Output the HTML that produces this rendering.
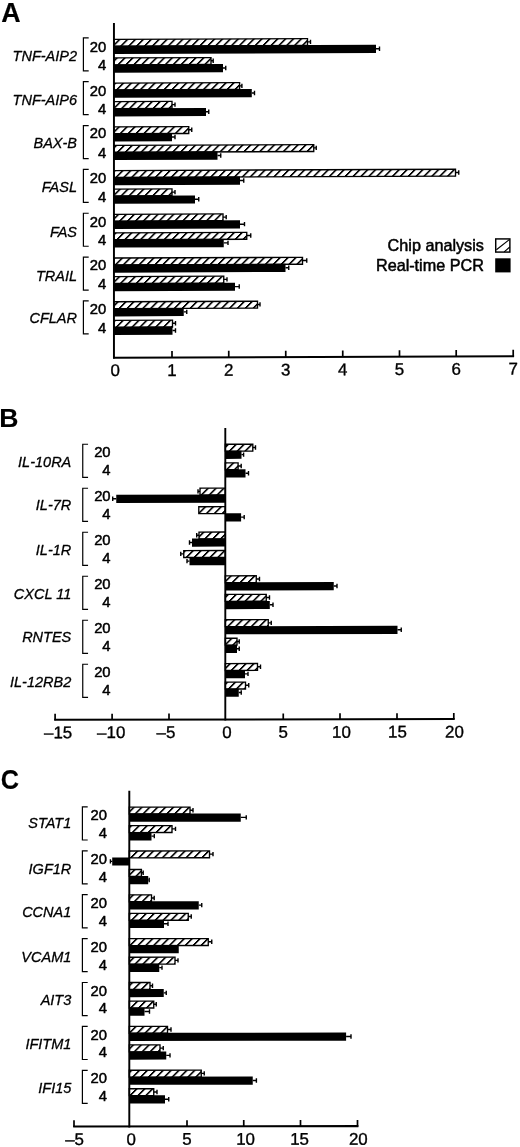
<!DOCTYPE html>
<html lang="en"><head><meta charset="utf-8"><title>Figure</title>
<style>
html,body{margin:0;padding:0;background:#fff;}
body{width:520px;height:1147px;overflow:hidden;}
svg{display:block;font-family:"Liberation Sans", Arial, Helvetica, sans-serif;fill:#000;filter:blur(0.35px);}
text{stroke:#000;stroke-width:0.5px;stroke-linejoin:round;}
</style></head><body>
<svg width="520" height="1147" viewBox="0 0 520 1147">
<defs>
<pattern id="hat" patternUnits="userSpaceOnUse" width="7.9" height="7.9" patternTransform="skewX(-45)">
<rect x="0" y="0" width="7.9" height="7.9" fill="#fff"/>
<rect x="0" y="0" width="2.3" height="7.9" fill="#000"/>
</pattern>
</defs>
<rect width="520" height="1147" fill="#fff"/>

<text x="1.2" y="21.7" font-size="26.8" font-weight="bold" style="stroke-width:0.2px">A</text>
<g transform="translate(114 0) skewY(-0.22) translate(-114 0)">
<rect x="113.95" y="39.38" width="193.55" height="6.9" fill="url(#hat)" stroke="#000" stroke-width="1.35"/>
<path d="M307.50 42.60H310.50M310.50 40.40V44.80" stroke="#000" stroke-width="1.4" fill="none"/>
<rect x="113.95" y="45.85" width="262.05" height="8.15" fill="#000"/>
<path d="M376.00 49.75H379.50M379.50 47.55V51.95" stroke="#000" stroke-width="1.4" fill="none"/>
<rect x="113.95" y="57.93" width="97.05" height="6.9" fill="url(#hat)" stroke="#000" stroke-width="1.35"/>
<path d="M211.00 61.15H213.20M213.20 58.95V63.35" stroke="#000" stroke-width="1.4" fill="none"/>
<rect x="113.95" y="64.50" width="109.05" height="8.15" fill="#000"/>
<path d="M223.00 68.40H225.75M225.75 66.20V70.60" stroke="#000" stroke-width="1.4" fill="none"/>
<rect x="113.95" y="83.11" width="125.65" height="6.9" fill="url(#hat)" stroke="#000" stroke-width="1.35"/>
<path d="M239.60 86.33H241.90M241.90 84.13V88.53" stroke="#000" stroke-width="1.4" fill="none"/>
<rect x="113.95" y="89.58" width="137.85" height="8.15" fill="#000"/>
<path d="M251.80 93.48H254.50M254.50 91.28V95.68" stroke="#000" stroke-width="1.4" fill="none"/>
<rect x="113.95" y="101.66" width="58.05" height="6.9" fill="url(#hat)" stroke="#000" stroke-width="1.35"/>
<path d="M172.00 104.88H175.00M175.00 102.68V107.08" stroke="#000" stroke-width="1.4" fill="none"/>
<rect x="113.95" y="108.23" width="92.05" height="8.15" fill="#000"/>
<path d="M206.00 112.13H208.75M208.75 109.93V114.33" stroke="#000" stroke-width="1.4" fill="none"/>
<rect x="113.95" y="126.84" width="74.80" height="6.9" fill="url(#hat)" stroke="#000" stroke-width="1.35"/>
<path d="M188.75 130.06H191.75M191.75 127.86V132.26" stroke="#000" stroke-width="1.4" fill="none"/>
<rect x="113.95" y="133.31" width="58.05" height="8.15" fill="#000"/>
<path d="M172.00 137.21H175.00M175.00 135.01V139.41" stroke="#000" stroke-width="1.4" fill="none"/>
<rect x="113.95" y="145.39" width="199.80" height="6.9" fill="url(#hat)" stroke="#000" stroke-width="1.35"/>
<path d="M313.75 148.61H316.25M316.25 146.41V150.81" stroke="#000" stroke-width="1.4" fill="none"/>
<rect x="113.95" y="151.96" width="103.55" height="8.15" fill="#000"/>
<path d="M217.50 155.86H220.75M220.75 153.66V158.06" stroke="#000" stroke-width="1.4" fill="none"/>
<rect x="113.95" y="170.57" width="341.55" height="6.9" fill="url(#hat)" stroke="#000" stroke-width="1.35"/>
<path d="M455.50 173.79H458.75M458.75 171.59V175.99" stroke="#000" stroke-width="1.4" fill="none"/>
<rect x="113.95" y="177.04" width="126.05" height="8.15" fill="#000"/>
<path d="M240.00 180.94H243.75M243.75 178.74V183.14" stroke="#000" stroke-width="1.4" fill="none"/>
<rect x="113.95" y="189.12" width="58.05" height="6.9" fill="url(#hat)" stroke="#000" stroke-width="1.35"/>
<path d="M172.00 192.34H175.00M175.00 190.14V194.54" stroke="#000" stroke-width="1.4" fill="none"/>
<rect x="113.95" y="195.69" width="81.05" height="8.15" fill="#000"/>
<path d="M195.00 199.59H198.75M198.75 197.39V201.79" stroke="#000" stroke-width="1.4" fill="none"/>
<rect x="113.95" y="214.30" width="109.05" height="6.9" fill="url(#hat)" stroke="#000" stroke-width="1.35"/>
<path d="M223.00 217.52H226.20M226.20 215.32V219.72" stroke="#000" stroke-width="1.4" fill="none"/>
<rect x="113.95" y="220.77" width="126.05" height="8.15" fill="#000"/>
<path d="M240.00 224.67H244.50M244.50 222.47V226.87" stroke="#000" stroke-width="1.4" fill="none"/>
<rect x="113.95" y="232.85" width="132.80" height="6.9" fill="url(#hat)" stroke="#000" stroke-width="1.35"/>
<path d="M246.75 236.07H250.75M250.75 233.87V238.27" stroke="#000" stroke-width="1.4" fill="none"/>
<rect x="113.95" y="239.42" width="109.80" height="8.15" fill="#000"/>
<path d="M223.75 243.32H228.00M228.00 241.12V245.52" stroke="#000" stroke-width="1.4" fill="none"/>
<rect x="113.95" y="258.03" width="188.55" height="6.9" fill="url(#hat)" stroke="#000" stroke-width="1.35"/>
<path d="M302.50 261.25H306.75M306.75 259.05V263.45" stroke="#000" stroke-width="1.4" fill="none"/>
<rect x="113.95" y="264.50" width="171.55" height="8.15" fill="#000"/>
<path d="M285.50 268.40H288.75M288.75 266.20V270.60" stroke="#000" stroke-width="1.4" fill="none"/>
<rect x="113.95" y="276.58" width="109.80" height="6.9" fill="url(#hat)" stroke="#000" stroke-width="1.35"/>
<path d="M223.75 279.80H227.00M227.00 277.60V282.00" stroke="#000" stroke-width="1.4" fill="none"/>
<rect x="113.95" y="283.15" width="121.05" height="8.15" fill="#000"/>
<path d="M235.00 287.05H239.25M239.25 284.85V289.25" stroke="#000" stroke-width="1.4" fill="none"/>
<rect x="113.95" y="301.76" width="143.55" height="6.9" fill="url(#hat)" stroke="#000" stroke-width="1.35"/>
<path d="M257.50 304.98H260.00M260.00 302.78V307.18" stroke="#000" stroke-width="1.4" fill="none"/>
<rect x="113.95" y="308.23" width="69.80" height="8.15" fill="#000"/>
<path d="M183.75 312.13H186.75M186.75 309.93V314.33" stroke="#000" stroke-width="1.4" fill="none"/>
<rect x="113.95" y="320.31" width="58.55" height="6.9" fill="url(#hat)" stroke="#000" stroke-width="1.35"/>
<path d="M172.50 323.53H175.50M175.50 321.33V325.73" stroke="#000" stroke-width="1.4" fill="none"/>
<rect x="113.95" y="326.88" width="58.55" height="8.15" fill="#000"/>
<path d="M172.50 330.78H175.50M175.50 328.58V332.98" stroke="#000" stroke-width="1.4" fill="none"/>
<path d="M113.95 22.9V358.6" stroke="#000" stroke-width="1.95" fill="none"/>
<path d="M113 357.7H514.1" stroke="#000" stroke-width="2.0" fill="none"/>
<path d="M172 351.3V358" stroke="#000" stroke-width="1.7" fill="none"/>
<path d="M228.75 351.3V358" stroke="#000" stroke-width="1.7" fill="none"/>
<path d="M285.75 351.3V358" stroke="#000" stroke-width="1.7" fill="none"/>
<path d="M342.75 351.3V358" stroke="#000" stroke-width="1.7" fill="none"/>
<path d="M399.5 351.3V358" stroke="#000" stroke-width="1.7" fill="none"/>
<path d="M456.2 351.3V358" stroke="#000" stroke-width="1.7" fill="none"/>
<path d="M513.2 351.3V358" stroke="#000" stroke-width="1.7" fill="none"/>
<text x="115.3" y="376.1" font-size="16.9" style="stroke-width:0.35px" text-anchor="middle">0</text>
<text x="172" y="376.1" font-size="16.9" style="stroke-width:0.35px" text-anchor="middle">1</text>
<text x="228.75" y="376.1" font-size="16.9" style="stroke-width:0.35px" text-anchor="middle">2</text>
<text x="285.75" y="376.1" font-size="16.9" style="stroke-width:0.35px" text-anchor="middle">3</text>
<text x="342.75" y="376.1" font-size="16.9" style="stroke-width:0.35px" text-anchor="middle">4</text>
<text x="399.5" y="376.1" font-size="16.9" style="stroke-width:0.35px" text-anchor="middle">5</text>
<text x="456.2" y="376.1" font-size="16.9" style="stroke-width:0.35px" text-anchor="middle">6</text>
<text x="513.2" y="376.1" font-size="16.9" style="stroke-width:0.35px" text-anchor="middle">7</text>
</g>
<path d="M88.70 37.85H83.40V70.85H88.70" stroke="#000" stroke-width="1.2" fill="none"/>
<text x="77.00" y="61.30" font-size="14.5" font-style="italic" style="stroke-width:0.3px" text-anchor="end">TNF-AIP2</text>
<text x="106.20" y="51.80" font-size="14.8" text-anchor="end">20</text>
<text x="106.20" y="69.95" font-size="14.8" text-anchor="end">4</text>
<path d="M88.70 81.70H83.40V114.70H88.70" stroke="#000" stroke-width="1.2" fill="none"/>
<text x="77.00" y="104.80" font-size="14.5" font-style="italic" style="stroke-width:0.3px" text-anchor="end">TNF-AIP6</text>
<text x="106.20" y="95.65" font-size="14.8" text-anchor="end">20</text>
<text x="106.20" y="113.80" font-size="14.8" text-anchor="end">4</text>
<path d="M88.70 125.55H83.40V158.55H88.70" stroke="#000" stroke-width="1.2" fill="none"/>
<text x="77.00" y="148.30" font-size="14.5" font-style="italic" style="stroke-width:0.3px" text-anchor="end">BAX-B</text>
<text x="106.20" y="138.45" font-size="14.8" text-anchor="end">20</text>
<text x="106.20" y="157.65" font-size="14.8" text-anchor="end">4</text>
<path d="M88.70 169.40H83.40V202.40H88.70" stroke="#000" stroke-width="1.2" fill="none"/>
<text x="77.00" y="192.30" font-size="14.5" font-style="italic" style="stroke-width:0.3px" text-anchor="end">FASL</text>
<text x="106.20" y="182.75" font-size="14.8" text-anchor="end">20</text>
<text x="106.20" y="201.50" font-size="14.8" text-anchor="end">4</text>
<path d="M88.70 213.25H83.40V246.25H88.70" stroke="#000" stroke-width="1.2" fill="none"/>
<text x="77.00" y="236.60" font-size="14.5" font-style="italic" style="stroke-width:0.3px" text-anchor="end">FAS</text>
<text x="106.20" y="226.50" font-size="14.8" text-anchor="end">20</text>
<text x="106.20" y="245.35" font-size="14.8" text-anchor="end">4</text>
<path d="M88.70 257.10H83.40V290.10H88.70" stroke="#000" stroke-width="1.2" fill="none"/>
<text x="77.00" y="280.50" font-size="14.5" font-style="italic" style="stroke-width:0.3px" text-anchor="end">TRAIL</text>
<text x="106.20" y="270.10" font-size="14.8" text-anchor="end">20</text>
<text x="106.20" y="289.20" font-size="14.8" text-anchor="end">4</text>
<path d="M88.70 300.95H83.40V333.95H88.70" stroke="#000" stroke-width="1.2" fill="none"/>
<text x="77.00" y="323.00" font-size="14.5" font-style="italic" style="stroke-width:0.3px" text-anchor="end">CFLAR</text>
<text x="106.20" y="314.40" font-size="14.8" text-anchor="end">20</text>
<text x="106.20" y="333.05" font-size="14.8" text-anchor="end">4</text>
<text x="483.9" y="250.6" font-size="16.2" text-anchor="end">Chip analysis</text>
<text x="483.9" y="270.5" font-size="16.2" text-anchor="end">Real-time PCR</text>
<rect x="495.72" y="238.92" width="14.16" height="13.16" fill="#fff" stroke="#000" stroke-width="1.45"/>
<path d="M496.4 249.8L509.3 239.6M504.2 251.9L509.8 247.0" stroke="#000" stroke-width="1.15" fill="none"/>
<rect x="495.2" y="258.3" width="15.4" height="14.1" fill="#000"/>
<text x="-0.7" y="426.9" font-size="26.6" font-weight="bold" style="stroke-width:0.1px">B</text>
<g transform="translate(225.3 0) skewY(-0.11) translate(-225.3 0)">
<rect x="225.30" y="444.28" width="27.50" height="6.9" fill="url(#hat)" stroke="#000" stroke-width="1.35"/>
<path d="M252.80 447.50H255.50M255.50 445.30V449.70" stroke="#000" stroke-width="1.4" fill="none"/>
<rect x="225.30" y="450.75" width="16.20" height="8.15" fill="#000"/>
<path d="M241.50 454.65H243.60M243.60 452.45V456.85" stroke="#000" stroke-width="1.4" fill="none"/>
<rect x="225.30" y="462.83" width="12.80" height="6.9" fill="url(#hat)" stroke="#000" stroke-width="1.35"/>
<path d="M238.10 466.05H241.20M241.20 463.85V468.25" stroke="#000" stroke-width="1.4" fill="none"/>
<rect x="225.30" y="469.40" width="20.20" height="8.15" fill="#000"/>
<path d="M245.50 473.30H248.50M248.50 471.10V475.50" stroke="#000" stroke-width="1.4" fill="none"/>
<rect x="200.00" y="488.14" width="25.30" height="6.9" fill="url(#hat)" stroke="#000" stroke-width="1.35"/>
<path d="M200.00 491.36H198.00M198.00 489.16V493.56" stroke="#000" stroke-width="1.4" fill="none"/>
<rect x="116.25" y="494.61" width="109.05" height="8.15" fill="#000"/>
<path d="M116.25 498.51H112.70M112.70 496.31V500.71" stroke="#000" stroke-width="1.4" fill="none"/>
<rect x="198.80" y="506.69" width="26.50" height="6.9" fill="url(#hat)" stroke="#000" stroke-width="1.35"/>
<rect x="225.30" y="513.26" width="15.80" height="8.15" fill="#000"/>
<path d="M241.10 517.16H244.20M244.20 514.96V519.36" stroke="#000" stroke-width="1.4" fill="none"/>
<rect x="199.00" y="532.00" width="26.30" height="6.9" fill="url(#hat)" stroke="#000" stroke-width="1.35"/>
<path d="M199.00 535.22H196.70M196.70 533.02V537.42" stroke="#000" stroke-width="1.4" fill="none"/>
<rect x="192.00" y="538.47" width="33.30" height="8.15" fill="#000"/>
<path d="M192.00 542.37H189.50M189.50 540.17V544.57" stroke="#000" stroke-width="1.4" fill="none"/>
<rect x="183.75" y="550.55" width="41.55" height="6.9" fill="url(#hat)" stroke="#000" stroke-width="1.35"/>
<path d="M183.75 553.77H180.75M180.75 551.57V555.97" stroke="#000" stroke-width="1.4" fill="none"/>
<rect x="189.50" y="557.12" width="35.80" height="8.15" fill="#000"/>
<path d="M189.50 561.02H187.00M187.00 558.82V563.22" stroke="#000" stroke-width="1.4" fill="none"/>
<rect x="225.30" y="575.86" width="30.95" height="6.9" fill="url(#hat)" stroke="#000" stroke-width="1.35"/>
<path d="M256.25 579.08H259.50M259.50 576.88V581.28" stroke="#000" stroke-width="1.4" fill="none"/>
<rect x="225.30" y="582.33" width="108.45" height="8.15" fill="#000"/>
<path d="M333.75 586.23H337.00M337.00 584.03V588.43" stroke="#000" stroke-width="1.4" fill="none"/>
<rect x="225.30" y="594.41" width="40.95" height="6.9" fill="url(#hat)" stroke="#000" stroke-width="1.35"/>
<path d="M266.25 597.63H269.50M269.50 595.43V599.83" stroke="#000" stroke-width="1.4" fill="none"/>
<rect x="225.30" y="600.98" width="44.50" height="8.15" fill="#000"/>
<path d="M269.80 604.88H273.00M273.00 602.68V607.08" stroke="#000" stroke-width="1.4" fill="none"/>
<rect x="225.30" y="619.72" width="42.95" height="6.9" fill="url(#hat)" stroke="#000" stroke-width="1.35"/>
<path d="M268.25 622.94H271.25M271.25 620.74V625.14" stroke="#000" stroke-width="1.4" fill="none"/>
<rect x="225.30" y="626.19" width="172.20" height="8.15" fill="#000"/>
<path d="M397.50 630.09H401.25M401.25 627.89V632.29" stroke="#000" stroke-width="1.4" fill="none"/>
<rect x="225.30" y="638.27" width="11.70" height="6.9" fill="url(#hat)" stroke="#000" stroke-width="1.35"/>
<path d="M237.00 641.49H239.25M239.25 639.29V643.69" stroke="#000" stroke-width="1.4" fill="none"/>
<rect x="225.30" y="644.84" width="11.70" height="8.15" fill="#000"/>
<path d="M237.00 648.74H239.25M239.25 646.54V650.94" stroke="#000" stroke-width="1.4" fill="none"/>
<rect x="225.30" y="663.58" width="32.20" height="6.9" fill="url(#hat)" stroke="#000" stroke-width="1.35"/>
<path d="M257.50 666.80H260.50M260.50 664.60V669.00" stroke="#000" stroke-width="1.4" fill="none"/>
<rect x="225.30" y="670.05" width="19.70" height="8.15" fill="#000"/>
<path d="M245.00 673.95H248.00M248.00 671.75V676.15" stroke="#000" stroke-width="1.4" fill="none"/>
<rect x="225.30" y="682.13" width="20.20" height="6.9" fill="url(#hat)" stroke="#000" stroke-width="1.35"/>
<path d="M245.50 685.35H248.75M248.75 683.15V687.55" stroke="#000" stroke-width="1.4" fill="none"/>
<rect x="225.30" y="688.70" width="13.45" height="8.15" fill="#000"/>
<path d="M238.75 692.60H241.25M241.25 690.40V694.80" stroke="#000" stroke-width="1.4" fill="none"/>
<path d="M225.3 428V720.4" stroke="#000" stroke-width="1.9" fill="none"/>
<path d="M54.2 719.5H454.7" stroke="#000" stroke-width="2.0" fill="none"/>
<path d="M55.1 713.5V719.8" stroke="#000" stroke-width="1.7" fill="none"/>
<path d="M112.1 713.5V719.8" stroke="#000" stroke-width="1.7" fill="none"/>
<path d="M169 713.5V719.8" stroke="#000" stroke-width="1.7" fill="none"/>
<path d="M283.25 713.5V719.8" stroke="#000" stroke-width="1.7" fill="none"/>
<path d="M340 713.5V719.8" stroke="#000" stroke-width="1.7" fill="none"/>
<path d="M397 713.5V719.8" stroke="#000" stroke-width="1.7" fill="none"/>
<path d="M453.8 713.5V719.8" stroke="#000" stroke-width="1.7" fill="none"/>
<text x="58.1" y="737.9" font-size="16.9" style="stroke-width:0.35px" text-anchor="middle">–15</text>
<text x="111.2" y="737.9" font-size="16.9" style="stroke-width:0.35px" text-anchor="middle">–10</text>
<text x="166" y="737.9" font-size="16.9" style="stroke-width:0.35px" text-anchor="middle">–5</text>
<text x="227" y="737.9" font-size="16.9" style="stroke-width:0.35px" text-anchor="middle">0</text>
<text x="283.2" y="737.9" font-size="16.9" style="stroke-width:0.35px" text-anchor="middle">5</text>
<text x="341.5" y="737.9" font-size="16.9" style="stroke-width:0.35px" text-anchor="middle">10</text>
<text x="397.5" y="737.9" font-size="16.9" style="stroke-width:0.35px" text-anchor="middle">15</text>
<text x="454.5" y="737.9" font-size="16.9" style="stroke-width:0.35px" text-anchor="middle">20</text>
</g>
<path d="M88.05 444.25H82.75V477.40H88.05" stroke="#000" stroke-width="1.2" fill="none"/>
<text x="71.30" y="466.70" font-size="14.5" font-style="italic" style="stroke-width:0.3px" text-anchor="end">IL-10RA</text>
<text x="110.60" y="456.75" font-size="14.8" text-anchor="end">20</text>
<text x="110.60" y="474.90" font-size="14.8" text-anchor="end">4</text>
<path d="M88.05 488.25H82.75V521.40H88.05" stroke="#000" stroke-width="1.2" fill="none"/>
<text x="71.30" y="510.20" font-size="14.5" font-style="italic" style="stroke-width:0.3px" text-anchor="end">IL-7R</text>
<text x="110.60" y="500.75" font-size="14.8" text-anchor="end">20</text>
<text x="110.60" y="518.90" font-size="14.8" text-anchor="end">4</text>
<path d="M88.05 532.25H82.75V565.40H88.05" stroke="#000" stroke-width="1.2" fill="none"/>
<text x="71.30" y="554.70" font-size="14.5" font-style="italic" style="stroke-width:0.3px" text-anchor="end">IL-1R</text>
<text x="110.60" y="544.75" font-size="14.8" text-anchor="end">20</text>
<text x="110.60" y="562.90" font-size="14.8" text-anchor="end">4</text>
<path d="M88.05 576.25H82.75V609.40H88.05" stroke="#000" stroke-width="1.2" fill="none"/>
<text x="71.30" y="598.95" font-size="14.5" font-style="italic" style="stroke-width:0.3px" text-anchor="end">CXCL 11</text>
<text x="110.60" y="588.75" font-size="14.8" text-anchor="end">20</text>
<text x="110.60" y="606.90" font-size="14.8" text-anchor="end">4</text>
<path d="M88.05 620.25H82.75V653.40H88.05" stroke="#000" stroke-width="1.2" fill="none"/>
<text x="71.30" y="642.20" font-size="14.5" font-style="italic" style="stroke-width:0.3px" text-anchor="end">RNTES</text>
<text x="110.60" y="632.75" font-size="14.8" text-anchor="end">20</text>
<text x="110.60" y="650.90" font-size="14.8" text-anchor="end">4</text>
<path d="M88.05 664.25H82.75V697.40H88.05" stroke="#000" stroke-width="1.2" fill="none"/>
<text x="71.30" y="687.20" font-size="14.5" font-style="italic" style="stroke-width:0.3px" text-anchor="end">IL-12RB2</text>
<text x="110.60" y="676.75" font-size="14.8" text-anchor="end">20</text>
<text x="110.60" y="694.90" font-size="14.8" text-anchor="end">4</text>
<text transform="translate(0.85 789.3) scale(0.92 1)" x="0" y="0" font-size="27.5" font-weight="bold" style="stroke-width:0.1px">C</text>
<g transform="translate(129.2 0) skewY(-0.06) translate(-129.2 0)">
<rect x="129.30" y="807.13" width="60.70" height="6.9" fill="url(#hat)" stroke="#000" stroke-width="1.35"/>
<path d="M190.00 810.35H193.00M193.00 808.15V812.55" stroke="#000" stroke-width="1.4" fill="none"/>
<rect x="129.30" y="813.60" width="111.45" height="8.15" fill="#000"/>
<path d="M240.75 817.50H246.25M246.25 815.30V819.70" stroke="#000" stroke-width="1.4" fill="none"/>
<rect x="129.30" y="825.68" width="42.70" height="6.9" fill="url(#hat)" stroke="#000" stroke-width="1.35"/>
<path d="M172.00 828.90H175.50M175.50 826.70V831.10" stroke="#000" stroke-width="1.4" fill="none"/>
<rect x="129.30" y="832.25" width="22.20" height="8.15" fill="#000"/>
<path d="M151.50 836.15H154.30M154.30 833.95V838.35" stroke="#000" stroke-width="1.4" fill="none"/>
<rect x="129.30" y="850.98" width="80.20" height="6.9" fill="url(#hat)" stroke="#000" stroke-width="1.35"/>
<path d="M209.50 854.20H213.00M213.00 852.00V856.40" stroke="#000" stroke-width="1.4" fill="none"/>
<rect x="112.20" y="857.45" width="17.10" height="8.15" fill="#000"/>
<path d="M112.20 861.35H110.40M110.40 859.15V863.55" stroke="#000" stroke-width="1.4" fill="none"/>
<rect x="129.30" y="869.53" width="12.10" height="6.9" fill="url(#hat)" stroke="#000" stroke-width="1.35"/>
<path d="M141.40 872.75H143.20M143.20 870.55V874.95" stroke="#000" stroke-width="1.4" fill="none"/>
<rect x="129.30" y="876.10" width="18.90" height="8.15" fill="#000"/>
<path d="M148.20 880.00H149.20M149.20 877.80V882.20" stroke="#000" stroke-width="1.4" fill="none"/>
<rect x="129.30" y="894.83" width="22.20" height="6.9" fill="url(#hat)" stroke="#000" stroke-width="1.35"/>
<path d="M151.50 898.05H154.20M154.20 895.85V900.25" stroke="#000" stroke-width="1.4" fill="none"/>
<rect x="129.30" y="901.30" width="69.45" height="8.15" fill="#000"/>
<path d="M198.75 905.20H201.75M201.75 903.00V907.40" stroke="#000" stroke-width="1.4" fill="none"/>
<rect x="129.30" y="913.38" width="58.95" height="6.9" fill="url(#hat)" stroke="#000" stroke-width="1.35"/>
<path d="M188.25 916.60H191.25M191.25 914.40V918.80" stroke="#000" stroke-width="1.4" fill="none"/>
<rect x="129.30" y="919.95" width="34.70" height="8.15" fill="#000"/>
<path d="M164.00 923.85H168.00M168.00 921.65V926.05" stroke="#000" stroke-width="1.4" fill="none"/>
<rect x="129.30" y="938.68" width="78.95" height="6.9" fill="url(#hat)" stroke="#000" stroke-width="1.35"/>
<path d="M208.25 941.90H211.75M211.75 939.70V944.10" stroke="#000" stroke-width="1.4" fill="none"/>
<rect x="129.30" y="945.15" width="49.45" height="8.15" fill="#000"/>
<rect x="129.30" y="957.23" width="45.70" height="6.9" fill="url(#hat)" stroke="#000" stroke-width="1.35"/>
<path d="M175.00 960.45H178.00M178.00 958.25V962.65" stroke="#000" stroke-width="1.4" fill="none"/>
<rect x="129.30" y="963.80" width="29.95" height="8.15" fill="#000"/>
<path d="M159.25 967.70H162.00M162.00 965.50V969.90" stroke="#000" stroke-width="1.4" fill="none"/>
<rect x="129.30" y="982.53" width="20.70" height="6.9" fill="url(#hat)" stroke="#000" stroke-width="1.35"/>
<path d="M150.00 985.75H152.50M152.50 983.55V987.95" stroke="#000" stroke-width="1.4" fill="none"/>
<rect x="129.30" y="989.00" width="34.45" height="8.15" fill="#000"/>
<path d="M163.75 992.90H166.25M166.25 990.70V995.10" stroke="#000" stroke-width="1.4" fill="none"/>
<rect x="129.30" y="1001.08" width="24.45" height="6.9" fill="url(#hat)" stroke="#000" stroke-width="1.35"/>
<path d="M153.75 1004.30H156.25M156.25 1002.10V1006.50" stroke="#000" stroke-width="1.4" fill="none"/>
<rect x="129.30" y="1007.65" width="15.20" height="8.15" fill="#000"/>
<path d="M144.50 1011.55H149.50M149.50 1009.35V1013.75" stroke="#000" stroke-width="1.4" fill="none"/>
<rect x="129.30" y="1026.38" width="38.20" height="6.9" fill="url(#hat)" stroke="#000" stroke-width="1.35"/>
<path d="M167.50 1029.60H171.00M171.00 1027.40V1031.80" stroke="#000" stroke-width="1.4" fill="none"/>
<rect x="129.30" y="1032.85" width="216.80" height="8.15" fill="#000"/>
<path d="M346.10 1036.75H351.00M351.00 1034.55V1038.95" stroke="#000" stroke-width="1.4" fill="none"/>
<rect x="129.30" y="1044.93" width="30.70" height="6.9" fill="url(#hat)" stroke="#000" stroke-width="1.35"/>
<path d="M160.00 1048.15H163.25M163.25 1045.95V1050.35" stroke="#000" stroke-width="1.4" fill="none"/>
<rect x="129.30" y="1051.50" width="36.95" height="8.15" fill="#000"/>
<path d="M166.25 1055.40H170.00M170.00 1053.20V1057.60" stroke="#000" stroke-width="1.4" fill="none"/>
<rect x="129.30" y="1070.23" width="71.95" height="6.9" fill="url(#hat)" stroke="#000" stroke-width="1.35"/>
<path d="M201.25 1073.45H204.25M204.25 1071.25V1075.65" stroke="#000" stroke-width="1.4" fill="none"/>
<rect x="129.30" y="1076.70" width="123.45" height="8.15" fill="#000"/>
<path d="M252.75 1080.60H256.40M256.40 1078.40V1082.80" stroke="#000" stroke-width="1.4" fill="none"/>
<rect x="129.30" y="1088.78" width="24.45" height="6.9" fill="url(#hat)" stroke="#000" stroke-width="1.35"/>
<path d="M153.75 1092.00H157.00M157.00 1089.80V1094.20" stroke="#000" stroke-width="1.4" fill="none"/>
<rect x="129.30" y="1095.35" width="35.70" height="8.15" fill="#000"/>
<path d="M165.00 1099.25H168.75M168.75 1097.05V1101.45" stroke="#000" stroke-width="1.4" fill="none"/>
<path d="M129.3 790.7V1127.4" stroke="#000" stroke-width="1.95" fill="none"/>
<path d="M73.2 1126.4H358.4" stroke="#000" stroke-width="2.1" fill="none"/>
<path d="M74 1120.2V1127" stroke="#000" stroke-width="1.7" fill="none"/>
<path d="M187 1120.2V1127" stroke="#000" stroke-width="1.7" fill="none"/>
<path d="M243.75 1120.2V1127" stroke="#000" stroke-width="1.7" fill="none"/>
<path d="M300.5 1120.2V1127" stroke="#000" stroke-width="1.7" fill="none"/>
<path d="M357.5 1120.2V1127" stroke="#000" stroke-width="1.7" fill="none"/>
<text x="74.6" y="1144.9" font-size="16.9" style="stroke-width:0.35px" text-anchor="middle">–5</text>
<text x="131.2" y="1144.9" font-size="16.9" style="stroke-width:0.35px" text-anchor="middle">0</text>
<text x="187" y="1144.9" font-size="16.9" style="stroke-width:0.35px" text-anchor="middle">5</text>
<text x="245.6" y="1144.9" font-size="16.9" style="stroke-width:0.35px" text-anchor="middle">10</text>
<text x="299.6" y="1144.9" font-size="16.9" style="stroke-width:0.35px" text-anchor="middle">15</text>
<text x="358.3" y="1144.9" font-size="16.9" style="stroke-width:0.35px" text-anchor="middle">20</text>
</g>
<path d="M87.70 806.90H82.40V840.00H87.70" stroke="#000" stroke-width="1.2" fill="none"/>
<text x="71.30" y="828.45" font-size="14.5" font-style="italic" style="stroke-width:0.3px" text-anchor="end">STAT1</text>
<text x="107.00" y="820.00" font-size="14.8" text-anchor="end">20</text>
<text x="107.00" y="837.80" font-size="14.8" text-anchor="end">4</text>
<path d="M87.70 850.80H82.40V883.90H87.70" stroke="#000" stroke-width="1.2" fill="none"/>
<text x="71.30" y="873.95" font-size="14.5" font-style="italic" style="stroke-width:0.3px" text-anchor="end">IGF1R</text>
<text x="107.00" y="863.90" font-size="14.8" text-anchor="end">20</text>
<text x="107.00" y="881.70" font-size="14.8" text-anchor="end">4</text>
<path d="M87.70 894.70H82.40V927.80H87.70" stroke="#000" stroke-width="1.2" fill="none"/>
<text x="71.30" y="916.70" font-size="14.5" font-style="italic" style="stroke-width:0.3px" text-anchor="end">CCNA1</text>
<text x="107.00" y="907.80" font-size="14.8" text-anchor="end">20</text>
<text x="107.00" y="925.60" font-size="14.8" text-anchor="end">4</text>
<path d="M87.70 938.60H82.40V971.70H87.70" stroke="#000" stroke-width="1.2" fill="none"/>
<text x="71.30" y="961.70" font-size="14.5" font-style="italic" style="stroke-width:0.3px" text-anchor="end">VCAM1</text>
<text x="107.00" y="951.70" font-size="14.8" text-anchor="end">20</text>
<text x="107.00" y="969.50" font-size="14.8" text-anchor="end">4</text>
<path d="M87.70 982.50H82.40V1015.60H87.70" stroke="#000" stroke-width="1.2" fill="none"/>
<text x="71.30" y="1005.20" font-size="14.5" font-style="italic" style="stroke-width:0.3px" text-anchor="end">AIT3</text>
<text x="107.00" y="995.60" font-size="14.8" text-anchor="end">20</text>
<text x="107.00" y="1013.40" font-size="14.8" text-anchor="end">4</text>
<path d="M87.70 1026.40H82.40V1059.50H87.70" stroke="#000" stroke-width="1.2" fill="none"/>
<text x="71.30" y="1049.20" font-size="14.5" font-style="italic" style="stroke-width:0.3px" text-anchor="end">IFITM1</text>
<text x="107.00" y="1039.50" font-size="14.8" text-anchor="end">20</text>
<text x="107.00" y="1057.30" font-size="14.8" text-anchor="end">4</text>
<path d="M87.70 1070.30H82.40V1103.40H87.70" stroke="#000" stroke-width="1.2" fill="none"/>
<text x="71.30" y="1092.95" font-size="14.5" font-style="italic" style="stroke-width:0.3px" text-anchor="end">IFI15</text>
<text x="107.00" y="1083.40" font-size="14.8" text-anchor="end">20</text>
<text x="107.00" y="1101.20" font-size="14.8" text-anchor="end">4</text>
</svg>
</body></html>
